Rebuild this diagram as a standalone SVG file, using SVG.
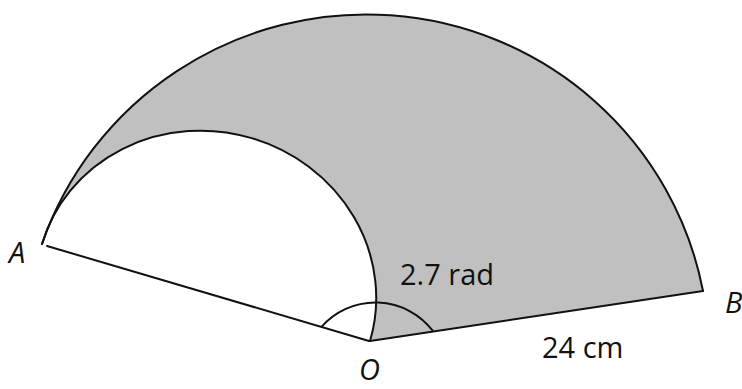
<svg xmlns="http://www.w3.org/2000/svg" width="742" height="389" viewBox="0 0 742 389">
<style>
.ln{fill:none;stroke:#111;stroke-width:2;stroke-linecap:round}
.lbl{font-family:"Open Sans","Noto Sans","Liberation Sans",sans-serif;font-size:29px;fill:#111}
.it{font-style:italic}
</style>
<rect width="742" height="389" fill="#fff"/>
<g id="shaded">
<path d="M 42 244 A 343 341 0 0 1 703 291 L 370 341 A 171 161 16.5 0 0 42 244 Z" fill="#c0c0c0" stroke="none"/>
</g>
<g id="outlines">
<path class="ln" d="M 42 244 A 343 341 0 0 1 703 291"/>
<path class="ln" d="M 42 244 A 171 161 16.5 0 1 370 341"/>
<path class="ln" d="M 47 246 L 369 341"/>
<path class="ln" d="M 370 341 L 703 291"/>
<path class="ln" d="M 321.7 326.7 A 72 72 0 0 1 432.7 330.7"/>
</g>
<g id="labels">
<text class="lbl it" x="9" y="262.5">A</text>
<text class="lbl it" x="725" y="313">B</text>
<text class="lbl it" x="359" y="380">O</text>
<text class="lbl" x="400" y="285">2.7 rad</text>
<text class="lbl" x="542" y="357.5">24 cm</text>
</g>
</svg>
